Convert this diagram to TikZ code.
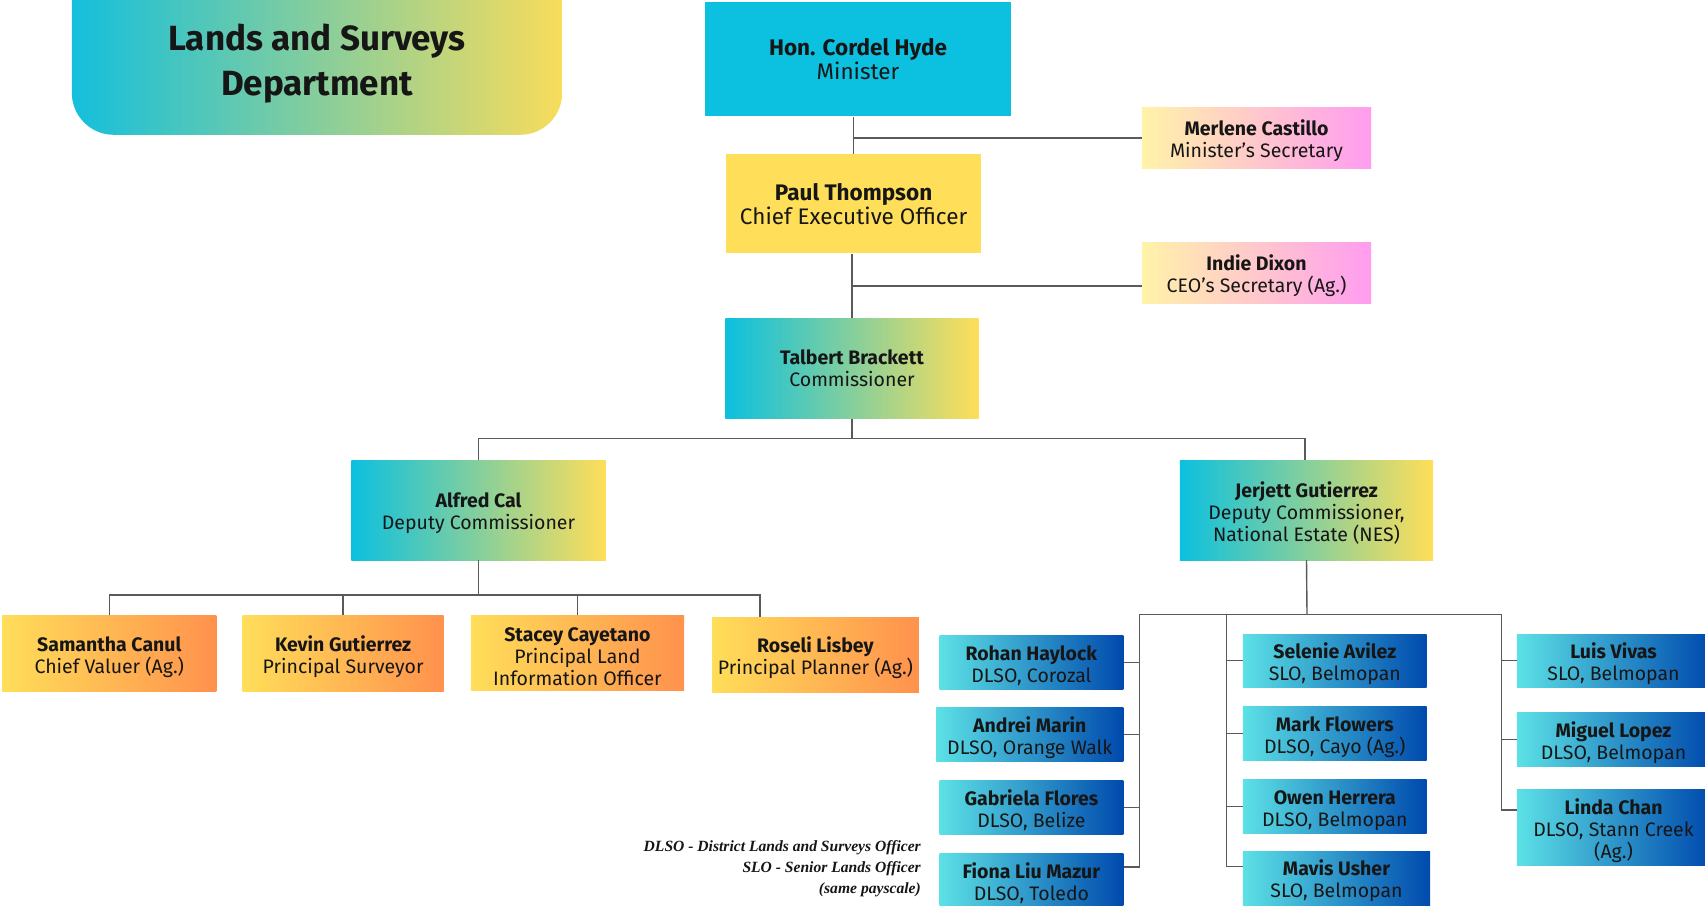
\documentclass[tikz,border=0pt]{standalone}
\usepackage{fontspec}
\setmainfont{Fira Sans}
\newfontfamily\legendfont{Liberation Serif}
\usetikzlibrary{calc}
\definecolor{txt}{HTML}{161616}
\definecolor{mcyan}{HTML}{0CC0DF}
\definecolor{myel}{HTML}{FFDE59}
\definecolor{morange}{HTML}{FF914D}
\definecolor{pyel}{HTML}{FFF3A8}
\definecolor{ppink}{HTML}{FF9CF0}
\definecolor{bcyan}{HTML}{5CE1E6}
\definecolor{bblue}{HTML}{004AAD}
\definecolor{tcyan}{HTML}{14BFDC}
\definecolor{tyel}{HTML}{F8DC5C}
\definecolor{wire}{HTML}{5A5A5A}
\newcommand\tup{\rule{0pt}{1.1em}}
\tikzset{
  box/.style={inner sep=0pt, align=center, text=txt, font=\fontsize{19.5}{22}\selectfont},
  bigbox/.style={box, font=\fontsize{22.5}{24.5}\selectfont},
  cygrad/.style={box, left color=mcyan, right color=myel},
  pinkgrad/.style={box, left color=pyel, right color=ppink},
  orgrad/.style={box, left color=myel, right color=morange},
  bluegrad/.style={box, left color=bcyan, right color=bblue},
  wsz/.style 2 args={minimum width=#1pt, minimum height=#2pt},
  conn/.style={draw=wire, line width=1.4pt}
}
\begin{document}
\begin{tikzpicture}[x=1pt,y=-1pt]
\useasboundingbox (0,0) rectangle (1705,905);
\clip (0,0) rectangle (1705,905);
\fill[white] (0,0) rectangle (1705,905);

% title
\shade[left color=tcyan, right color=tyel, rounded corners=42pt] (71.8,-60) rectangle (562.2,134.8);
\node[align=center, text=txt, font=\fontsize{35}{45}\selectfont\bfseries] (title) at (317,63.5) {Lands and Surveys\\Department};

% top chain
\node[bigbox, fill=mcyan, wsz={306.7}{114.1}] (minister) at (858,59.3) {\textbf{Hon. Cordel Hyde}\\Minister};
\node[pinkgrad, wsz={229.4}{60.8}] (merlene) at (1256.5,138.1) {\tup\textbf{Merlene Castillo}\\Minister’s Secretary};
\node[bigbox, fill=myel, wsz={254.4}{99}] (paul) at (853.6,203.9) {\textbf{Paul Thompson}\\Chief Executive Officer};
\node[pinkgrad, wsz={229.4}{60.9}] (indie) at (1256.5,273) {\tup\textbf{Indie Dixon}\\CEO’s Secretary (Ag.)};
\node[cygrad, wsz={253.3}{100}] (talbert) at (852,368.6) {\textbf{Talbert Brackett}\\Commissioner};

% deputies
\node[cygrad, wsz={254.5}{100}] (alfred) at (478.5,510) {\tup\textbf{Alfred Cal}\\Deputy Commissioner};
\node[cygrad, wsz={253.4}{100}] (jerjett) at (1306.5,510) {\tup\textbf{Jerjett Gutierrez}\\Deputy Commissioner,\\National Estate (NES)};

% orange row
\node[orgrad, wsz={214.2}{76.1}] (samantha) at (109.3,653.6) {\tup\textbf{Samantha Canul}\\Chief Valuer (Ag.)};
\node[orgrad, wsz={201.2}{76.1}] (kevin) at (343.1,653.6) {\tup\textbf{Kevin Gutierrez}\\Principal Surveyor};
\node[orgrad, wsz={213.2}{75}] (stacey) at (577.4,653) {\tup\textbf{Stacey Cayetano}\\Principal Land\\Information Officer};
\node[orgrad, wsz={206.6}{75.1}] (roseli) at (815.5,655.2) {\tup\textbf{Roseli Lisbey}\\Principal Planner (Ag.)};

% blue columns
\node[bluegrad, wsz={183.8}{54.4}] (rohan) at (1031.4,662.2) {\tup\textbf{Rohan Haylock}\\DLSO, Corozal};
\node[bluegrad, wsz={187.1}{53.3}] (andrei) at (1029.8,734.6) {\tup\textbf{Andrei Marin}\\DLSO, Orange Walk};
\node[bluegrad, wsz={183.8}{53.3}] (gabriela) at (1031.4,807.4) {\tup\textbf{Gabriela Flores}\\DLSO, Belize};
\node[bluegrad, wsz={183.8}{53.4}] (fiona) at (1031.4,880.3) {\tup\textbf{Fiona Liu Mazur}\\DLSO, Toledo};

\node[bluegrad, wsz={183.8}{53.2}] (selenie) at (1334.8,660.6) {\tup\textbf{Selenie Avilez}\\SLO, Belmopan};
\node[bluegrad, wsz={183.8}{53.3}] (mark) at (1334.8,733.5) {\tup\textbf{Mark Flowers}\\DLSO, Cayo (Ag.)};
\node[bluegrad, wsz={183.8}{53.3}] (owen) at (1334.8,806.4) {\tup\textbf{Owen Herrera}\\DLSO, Belmopan};
\node[bluegrad, wsz={187.1}{53.6}] (mavis) at (1336.5,878.2) {\tup\textbf{Mavis Usher}\\SLO, Belmopan};

\node[bluegrad, wsz={193.2}{53.2}] (luis) at (1613.5,660.6) {\tup\textbf{Luis Vivas}\\SLO, Belmopan};
\node[bluegrad, wsz={193.2}{54.4}] (miguel) at (1613.5,739.4) {\tup\textbf{Miguel Lopez}\\DLSO, Belmopan};
\node[bluegrad, wsz={193.2}{76.2}] (linda) at (1613.5,827.5) {\tup\textbf{Linda Chan}\\DLSO, Stann Creek\\(Ag.)};

% legend
\node[anchor=east, align=right, text=txt, font={\legendfont\bfseries\itshape\fontsize{15.6}{21.2}\selectfont}] (legend) at (924.3,868.5) {DLSO - District Lands and Surveys Officer\\SLO - Senior Lands Officer\\(same payscale)};

% connectors: top chain
\draw[conn] (paul.north) -- (paul.north |- minister.south);
\draw[conn] (merlene.west) -- (merlene.west -| paul.north);
\draw[conn] (talbert.north) -- (talbert.north |- paul.south);
\coordinate (indieT) at ($(indie.north west)!0.71!(indie.south west)$);
\draw[conn] (indieT) -- (indieT -| talbert.north);

% commissioner bus
\coordinate (cbus) at (852,438.2);
\draw[conn] (talbert.south) -- (cbus);
\draw[conn] (alfred.north) |- ($(jerjett.north |- cbus)+(-1.6,0)$) -- ($(jerjett.north)+(-1.6,0)$);

% Alfred bus
\coordinate (abus) at (478.5,594.8);
\coordinate (rdrop) at (760.1,594.8);
\draw[conn] (alfred.south) -- (abus);
\draw[conn] (samantha.north) |- (rdrop) -- (rdrop |- roseli.north);
\draw[conn] (kevin.north) -- (kevin.north |- abus);
\draw[conn] (stacey.north) -- (stacey.north |- abus);

% Jerjett bus
\coordinate (jbus) at (1307,614.4);
\coordinate (lc) at (1139.6,614.4);
\coordinate (mc) at (1226.6,614.4);
\coordinate (rc) at (1501.7,614.4);
\draw[conn] (jerjett.south) -- (jbus);
\draw[conn] (lc) -- (rc);
\coordinate (fionaT) at ($(fiona.north east)!0.25!(fiona.south east)$);
\coordinate (mavisT) at ($(mavis.north west)!0.28!(mavis.south west)$);
\coordinate (lindaT) at ($(linda.north west)!0.27!(linda.south west)$);
\draw[conn] (lc) |- (fionaT);
\draw[conn] (mc) |- (mavisT);
\draw[conn] (rc) |- (lindaT);
\draw[conn] (rohan.east) -- (rohan.east -| lc);
\draw[conn] (andrei.east) -- (andrei.east -| lc);
\draw[conn] (gabriela.east) -- (gabriela.east -| lc);
\draw[conn] (selenie.west) -- (selenie.west -| mc);
\draw[conn] (mark.west) -- (mark.west -| mc);
\draw[conn] (owen.west) -- (owen.west -| mc);
\draw[conn] (luis.west) -- (luis.west -| rc);
\draw[conn] (miguel.west) -- (miguel.west -| rc);
\end{tikzpicture}
\end{document}
